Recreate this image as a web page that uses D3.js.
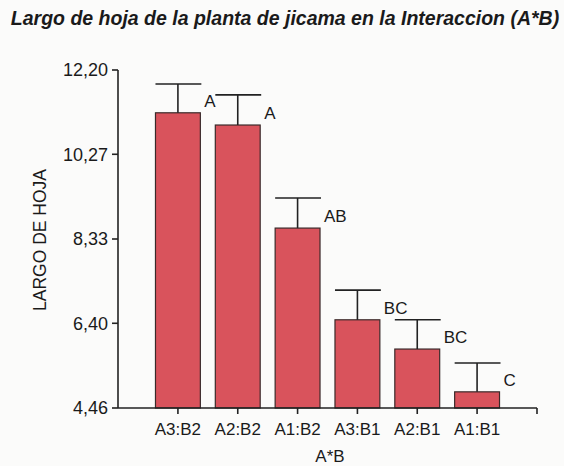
<!doctype html>
<html lang="es">
<head>
    <meta charset="UTF-8">
    <title>Largo de hoja</title>
    <style>
        body {
            margin: 0;
            padding: 0;
            background-color: #fbfbfa;
            font-family: Arial, "Liberation Sans", sans-serif;
        }
        .bar {
            fill: #d9535c;
            stroke: #3a2a2a;
            stroke-width: 1.2px;
        }
        .err {
            stroke: #222;
            stroke-width: 1.6px;
            fill: none;
        }
        .axis-line {
            stroke: #222;
            stroke-width: 1.6px;
        }
        text {
            fill: #1a1a1a;
        }
    </style>
</head>
<body>
    <svg width="564" height="466"></svg>

    <script src="https://d3js.org/d3.v7.min.js"></script>
    <script>
        // datos
        const categorias = ["A3:B2", "A2:B2", "A1:B2", "A3:B1", "A2:B1", "A1:B1"];
        const medias = [11.22, 10.94, 8.58, 6.48, 5.81, 4.83];
        const errSup = [11.88, 11.63, 9.27, 7.16, 6.48, 5.49];
        const letras = ["A", "A", "AB", "BC", "BC", "C"];
        const yTicks = [4.46, 6.40, 8.33, 10.27, 12.20];

        const svg = d3.select("svg");

        const x0 = 118, x1 = 537;
        const y = d3.scaleLinear().domain([4.46, 12.20]).range([408, 70]);
        const x = d3.scaleBand()
            .domain(categorias)
            .range([148, 507])
            .paddingInner(0.25)
            .paddingOuter(0.125);

        const fmt = d => d.toFixed(2).replace(".", ",");

        // titulo
        svg.append("text")
            .attr("x", 285)
            .attr("y", 25)
            .attr("text-anchor", "middle")
            .style("font-size", "19.5px")
            .style("font-weight", "bold")
            .style("font-style", "italic")
            .text("Largo de hoja de la planta de jicama en la Interaccion (A*B)");

        // barras
        svg.selectAll(".bar")
            .data(medias)
            .enter()
            .append("rect")
            .attr("class", "bar")
            .attr("x", (d, i) => x(categorias[i]))
            .attr("y", d => y(d))
            .attr("width", x.bandwidth())
            .attr("height", d => y(4.46) - y(d));

        // barras de error (solo hacia arriba)
        const eb = svg.selectAll(".eb")
            .data(errSup)
            .enter()
            .append("g");

        eb.append("line")
            .attr("class", "err")
            .attr("x1", (d, i) => x(categorias[i]) + x.bandwidth() / 2)
            .attr("x2", (d, i) => x(categorias[i]) + x.bandwidth() / 2)
            .attr("y1", (d, i) => y(medias[i]))
            .attr("y2", d => y(d));

        eb.append("line")
            .attr("class", "err")
            .attr("x1", (d, i) => x(categorias[i]))
            .attr("x2", (d, i) => x(categorias[i]) + x.bandwidth() + 1)
            .attr("y1", d => y(d))
            .attr("y2", d => y(d));

        // letras de significancia
        svg.selectAll(".letra")
            .data(letras)
            .enter()
            .append("text")
            .attr("x", (d, i) => x(categorias[i]) + x.bandwidth() + 4)
            .attr("y", (d, i) => y(medias[i]) - 6)
            .style("font-size", "17px")
            .text(d => d);

        // eje Y
        svg.append("line")
            .attr("class", "axis-line")
            .attr("x1", x0).attr("x2", x0)
            .attr("y1", y(12.20)).attr("y2", y(4.46));

        const yt = svg.selectAll(".ytick")
            .data(yTicks)
            .enter()
            .append("g")
            .attr("transform", d => `translate(${x0},${y(d)})`);

        yt.append("line")
            .attr("class", "axis-line")
            .attr("x1", -6).attr("x2", 0);

        yt.append("text")
            .attr("x", -10)
            .attr("dy", "0.35em")
            .attr("text-anchor", "end")
            .style("font-size", "18px")
            .text(fmt);

        // eje X
        svg.append("line")
            .attr("class", "axis-line")
            .attr("x1", x0).attr("x2", x1)
            .attr("y1", y(4.46)).attr("y2", y(4.46));

        const xt = svg.selectAll(".xtick")
            .data(categorias)
            .enter()
            .append("g")
            .attr("transform", d => `translate(${x(d) + x.bandwidth() / 2},${y(4.46)})`);

        xt.append("line")
            .attr("class", "axis-line")
            .attr("y1", 0).attr("y2", 6);

        xt.append("text")
            .attr("y", 27)
            .attr("text-anchor", "middle")
            .style("font-size", "17px")
            .text(d => d);

        svg.append("line")
            .attr("class", "axis-line")
            .attr("x1", x1).attr("x2", x1)
            .attr("y1", y(4.46)).attr("y2", y(4.46) + 6);

        // titulos de ejes
        svg.append("text")
            .attr("x", 330)
            .attr("y", 462)
            .attr("text-anchor", "middle")
            .style("font-size", "17px")
            .text("A*B");

        svg.append("text")
            .attr("transform", "translate(46,240) rotate(-90)")
            .attr("text-anchor", "middle")
            .style("font-size", "17.5px")
            .text("LARGO DE HOJA");
    </script>
</body>
</html>
